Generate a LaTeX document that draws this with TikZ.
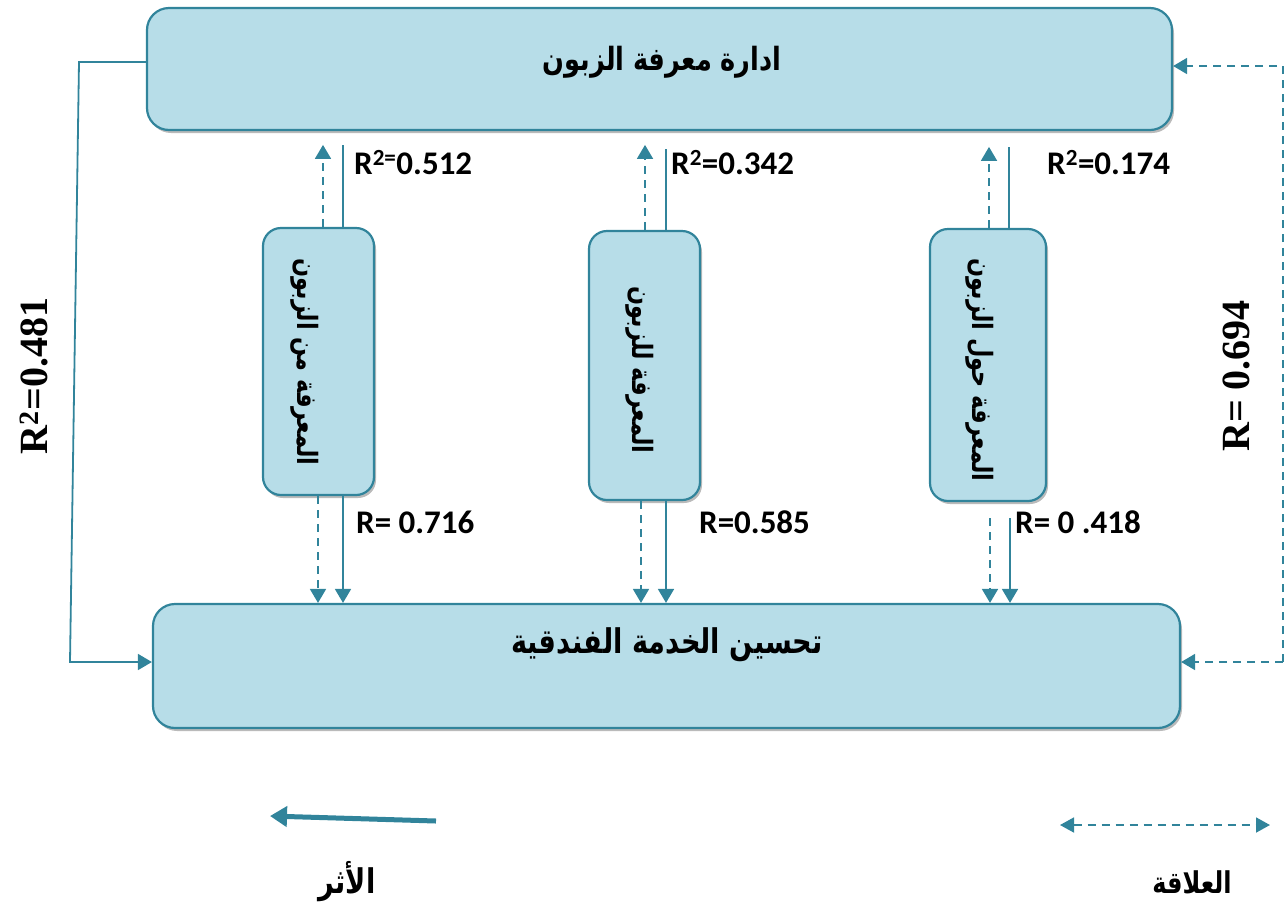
\documentclass[tikz,border=0pt]{standalone}
\usepackage{fontspec}
\usetikzlibrary{arrows.meta,shadows}
\TeXXeTstate=1
\newfontfamily\arabicfont[Script=Arabic,FakeStretch=0.8]{DejaVu Sans}
\newfontfamily\lblfont{Carlito}
\newfontfamily\serfont{Liberation Serif}
\definecolor{teal1}{HTML}{31849B}
\definecolor{boxfill}{HTML}{B7DDE8}
\tikzset{
  box/.style={draw=teal1, fill=boxfill, line width=2.2pt, rounded corners=#1,
    drop shadow={shadow xshift=2pt, shadow yshift=-3pt, fill=black!45, opacity=0.6}},
  conn/.style={draw=teal1, line width=1.8pt},
  tip/.style={-{Triangle[width=16pt,length=14pt]}},
  dsh/.style={dash pattern=on 8pt off 6pt},
  lbl/.style={font=\lblfont\bfseries\fontsize{33}{35}\selectfont, inner sep=0pt},
  sidelbl/.style={font=\serfont\bfseries\fontsize{40}{42}\selectfont, inner sep=0pt, rotate=90},
  artxt/.style={font=\arabicfont\bfseries\fontsize{#1}{#1}\selectfont, inner sep=0pt},
}
\begin{document}
\begin{tikzpicture}[x=1pt,y=-1pt]
\useasboundingbox (0,0) rectangle (1287,903);
% boxes
\node[box=22pt, minimum width=1025pt, minimum height=122pt] (top) at (659.5,69) {};
\node[box=22pt, minimum width=1027pt, minimum height=124pt] (bot) at (666.5,666) {};
\node[box=18pt, minimum width=111pt, minimum height=267pt] (v1) at (318.5,361.5) {};
\node[box=18pt, minimum width=111pt, minimum height=269pt] (v2) at (644.5,365.5) {};
\node[box=18pt, minimum width=116pt, minimum height=272pt] (v3) at (988,365) {};
% texts
\node[artxt=32] (ttop) at (662,62) {\beginR ادارة معرفة الزبون\endR};
\node[artxt=34] (tbot) at (667,645) {\beginR تحسين الخدمة الفندقية\endR};
\node[artxt=28, rotate=-90] (t1) at (305,362) {\beginR المعرفة من الزبون\endR};
\node[artxt=28, rotate=-90] (t2) at (640,370) {\beginR المعرفة للزبون\endR};
\node[artxt=28, rotate=-90] (t3) at (980,370) {\beginR المعرفة حول الزبون\endR};
% upward connectors
\draw[conn,dsh,tip] ([xshift=4.5pt]v1.north) -- ++(0,-82);
\draw[conn] ([xshift=24.5pt]v1.north) -- ++(0,-82);
\draw[conn,dsh,tip] ([xshift=0.5pt]v2.north) -- ++(0,-85);
\draw[conn] ([xshift=21.5pt]v2.north) -- ++(0,-81);
\draw[conn,dsh,tip] ([xshift=1pt]v3.north) -- ++(0,-81);
\draw[conn] ([xshift=21pt]v3.north) -- ++(0,-81);
% downward connectors
\draw[conn,dsh,tip] ([xshift=-0.5pt]v1.south) -- ([xshift=-0.5pt]v1.south |- bot.north);
\draw[conn,tip] ([xshift=24.5pt]v1.south) -- ([xshift=24.5pt]v1.south |- bot.north);
\draw[conn,dsh,tip] ([xshift=-3.5pt]v2.south) -- ([xshift=-3.5pt]v2.south |- bot.north);
\draw[conn,tip] ([xshift=21.5pt]v2.south) -- ([xshift=21.5pt]v2.south |- bot.north);
\draw[conn,dsh,tip] ([xshift=2pt,yshift=-16pt]v3.south) -- ([xshift=2pt]v3.south |- bot.north);
\draw[conn,tip] ([xshift=22pt,yshift=-16pt]v3.south) -- ([xshift=22pt]v3.south |- bot.north);
% labels
\node[lbl, anchor=west] (l1) at (354,163) {R\textsuperscript{2=}0.512};
\node[lbl, anchor=west] (l2) at (671,163) {R\textsuperscript{2}=0.342};
\node[lbl, anchor=west] (l3) at (1047,163) {R\textsuperscript{2}=0.174};
\node[lbl, anchor=west] (l4) at (356,522) {R= 0.716};
\node[lbl, anchor=west] (l5) at (699,522) {R=0.585};
\node[lbl, anchor=west] (l6) at (1015,522) {R= 0 .418};
% side connectors
\coordinate (lt) at (79,62);
\coordinate (lb) at (70,662);
\draw[conn,tip] (top.west |- lt) -- (lt) -- (lb) -- (bot.west |- lb);
\coordinate (rt) at (1283,66);
\coordinate (rb) at (1283,662);
\draw[conn,dsh,tip] (rb) -- (bot.east |- rb);
\draw[conn,dsh,tip] (rb) -- (rt) -- (top.east |- rt);
\node[sidelbl] (lr1) at (34,376) {R\textsuperscript{2}=0.481};
\node[sidelbl] (lr2) at (1236,376) {R= 0.694};
% legend
\coordinate (la) at (436,821);
\coordinate (lbb) at (270,816);
\draw[draw=teal1, line width=5pt, -{Triangle[width=20pt,length=17pt]}] (la) -- (lbb);
\node[artxt=34] (leg1) at (347,882) {\beginR الأثر\endR};
\coordinate (ra) at (1060,825);
\coordinate (rbb) at (1270,825);
\draw[conn,dsh,{Triangle[width=15pt,length=14pt]}-{Triangle[width=15pt,length=14pt]}] (ra) -- (rbb);
\node[artxt=30] (leg2) at (1192,882) {\beginR العلاقة\endR};
\end{tikzpicture}
\end{document}
